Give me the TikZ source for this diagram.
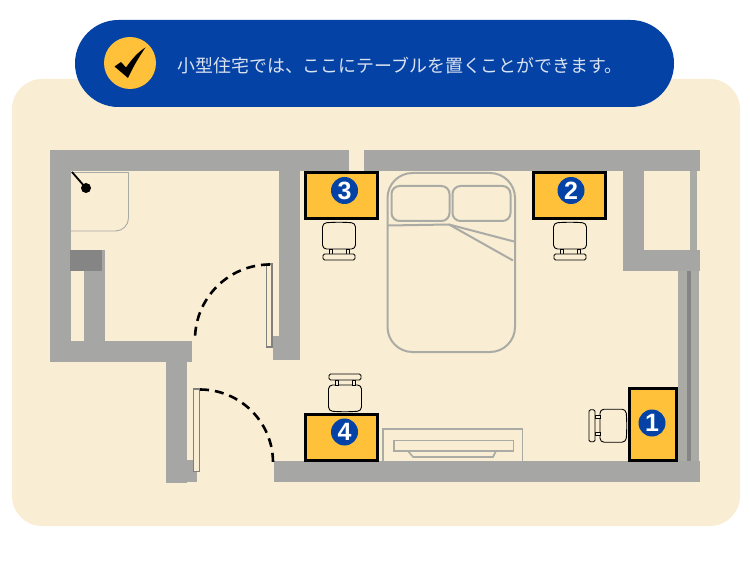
\documentclass[tikz,border=0pt]{standalone}
\usepackage{fontspec}
\setsansfont{Liberation Sans}
\newfontfamily\cjk{Noto Sans CJK JP}
\usetikzlibrary{arrows,shapes}

\definecolor{paper}{HTML}{F9EDD3}
\definecolor{wall}{HTML}{A6A6A4}
\definecolor{darkwall}{HTML}{858585}
\definecolor{sketch}{HTML}{ABABA5}
\definecolor{desk}{HTML}{FFC13A}
\definecolor{navy}{HTML}{0542A5}

\tikzset{
  wallpart/.style={fill=wall,draw=none},
  desktop/.style={draw=black,line width=3pt,fill=desk},
  furniture/.style={draw=sketch,line width=2pt},
  swing/.style={draw=black,line width=2.6pt,dash pattern=on 9pt off 6pt},
  doorleaf/.style={draw=gray,line width=1.6pt,fill=paper},
  badge/.style={circle,fill=navy,text=white,inner sep=0pt,minimum size=27pt,font=\sffamily\bfseries\fontsize{25}{25}\selectfont},
  deskchair/.pic={
    \draw[black,line width=0.9pt,fill=paper,rounded corners=4pt] (-16.5,1) to[bend left=4] (16.5,1) -- (16.5,27) -- (-16.5,27) -- cycle;
    \draw[black,line width=0.9pt,fill=paper] (-10,27) rectangle (-7,32);
    \draw[black,line width=0.9pt,fill=paper] (7,27) rectangle (10,32);
    \draw[black,line width=0.9pt,fill=paper,rounded corners=1.5pt] (-16,32) rectangle (16,38);
  }
}

\begin{document}
\begin{tikzpicture}[x=1pt,y=-1pt]
\useasboundingbox (0,0) rectangle (750,580);

% Background and banner
\fill[paper,rounded corners=30pt] (12,79) rectangle (740,526);
\fill[navy,rounded corners=43.4pt] (75,20) rectangle (674,107);
\node[circle,fill=desk,minimum size=52pt,inner sep=0pt] (tick) at (130,63) {};
\fill[black] (114.5,66.5) -- (121,62) -- (126,67.5) .. controls (132,59) and (138,52) .. (145.5,47.5) .. controls (139,57) and (133,67) .. (128,78) -- cycle;
\node[text=white!85!navy,font=\cjk\fontsize{17.9}{17.9}\selectfont,inner sep=0pt] (tip) at (400,65.5) {小型住宅では、ここにテーブルを置くことができます。};

% Walls
\fill[wallpart] (50,150) rectangle (349,171);
\fill[wallpart] (364,150) rectangle (700,171);
\fill[wallpart] (50,150) rectangle (71,362);
\fill[wallpart] (50,341) rectangle (192,362);
\fill[wallpart] (84,250) rectangle (105,341);
\fill[darkwall] (70,250) rectangle (102,271);
\fill[wallpart] (279,171) rectangle (300,360);
\fill[wallpart] (273,336) rectangle (300,360);
\fill[wallpart] (166,362) rectangle (187,483);
\fill[wallpart] (166,460) rectangle (197,482);
\fill[wallpart] (274,461) rectangle (700,482);
\fill[wallpart] (623,171) rectangle (644,250);
\fill[sketch] (690,171) rectangle (697,250);
\fill[wallpart] (623,250) rectangle (700,271);

% Window
\fill[sketch] (678,271) rectangle (699,461);
\fill[darkwall] (687,271) rectangle (691,461);

% Shower
\draw[sketch,line width=0.9pt] (71,172.5) -- (128.5,172.5) -- (128.5,218) arc[start angle=0,end angle=-90,radius=13pt] -- (71,231);
\draw[black,line width=1.8pt] (72,172) -- (85,187);
\fill[black] (86,188) circle (5pt);

% Doors
\draw[doorleaf] (266.5,264) rectangle (272,347);
\draw[swing] (270,264.5) arc[start angle=90,end angle=180,radius=75pt];
\draw[doorleaf] (193.5,389) rectangle (199.5,471.5);
\draw[swing] (200,389.5) arc[start angle=90,end angle=0,radius=73pt];

% Bed
\draw[furniture,rounded corners=25pt] (387.5,173) rectangle (515,352);
\draw[furniture,rounded corners=8pt] (391.5,186) rectangle (449.5,221);
\draw[furniture,rounded corners=8pt] (452.5,186) rectangle (510.5,221);
\draw[furniture] (388,225.5) -- (449,224.5) -- (514,241.5);
\draw[furniture] (449,224.5) -- (513,260.5);

% Cabinet
\draw[furniture,line width=1.6pt] (383,461) -- (383,429) -- (522.5,429) -- (522.5,461);
\draw[furniture,line width=1.6pt] (394,440.5) rectangle (513.5,451);
\draw[furniture,line width=1.6pt] (408,451) -- (413,457) -- (493,457) -- (496,451);

% Desks
\draw[desktop] (305.5,172.5) rectangle (377.5,218.5);
\draw[desktop] (533.5,172.5) rectangle (605.5,218.5);
\draw[desktop] (305.5,414.5) rectangle (377.5,460.5);
\draw[desktop] (629.5,388.5) rectangle (676.5,460);

\node[badge] (one) at (652,423) {1};
\node[badge] (two) at (571,190.5) {2};
\node[badge] (three) at (344.5,190.5) {3};
\node[badge] (four) at (344.5,432) {4};

% Chairs
\pic at (339,222) {deskchair};
\pic at (570,222) {deskchair};
\pic[rotate=180] at (345,412) {deskchair};
\pic[rotate=-90] at (627,425.7) {deskchair};

\end{tikzpicture}
\end{document}
